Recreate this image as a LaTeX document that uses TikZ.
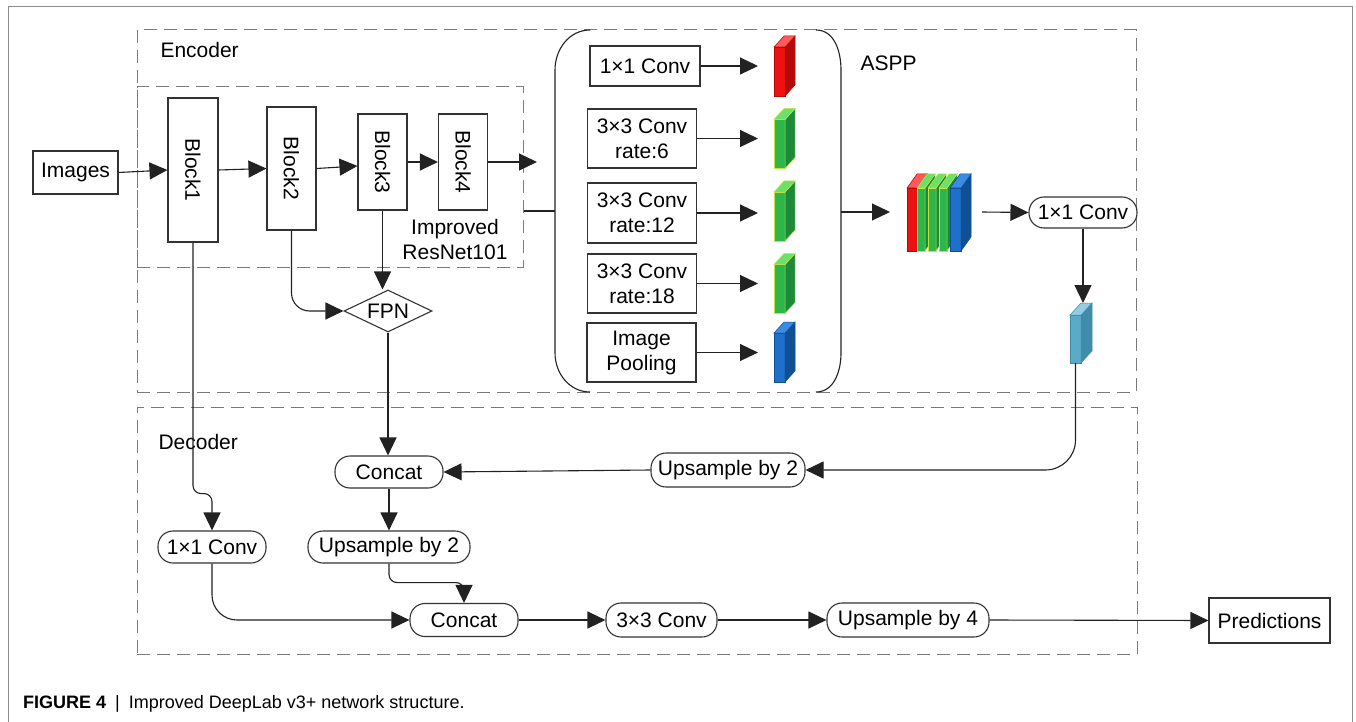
\documentclass[tikz,border=0pt]{standalone}
\usepackage{fontspec}
\setmainfont{Liberation Sans}
\usetikzlibrary{arrows.meta,shapes.geometric}
\definecolor{ln}{HTML}{222222}
\definecolor{nd}{HTML}{333333}
\definecolor{dsh}{HTML}{7A7A7A}
\definecolor{frm}{HTML}{8C8C8C}
\definecolor{redF}{HTML}{EE1111}
\definecolor{redS}{HTML}{B50A0A}
\definecolor{redT}{HTML}{FF5A5A}
\definecolor{grnF}{HTML}{2DB64A}
\definecolor{grnS}{HTML}{1C8A3A}
\definecolor{grnT}{HTML}{6BE06B}
\definecolor{grnE}{HTML}{C8E03C}
\definecolor{bluF}{HTML}{1F6FCC}
\definecolor{bluS}{HTML}{0F4F94}
\definecolor{bluT}{HTML}{3C8CE6}
\definecolor{cyF}{HTML}{5AAAC8}
\definecolor{cyS}{HTML}{3E8CAA}
\definecolor{cyT}{HTML}{92CDE2}
\newcommand\drawcube[6]{%
  \filldraw[fill=#4, draw=#6, line width=0.5pt] (#1.north east) -- ++(#2pt,#3pt) -- ([shift={(#2pt,#3pt)}]#1.south east) -- (#1.south east) -- cycle;
  \filldraw[fill=#5, draw=#6, line width=0.5pt] (#1.north west) -- ++(#2pt,#3pt) -- ([shift={(#2pt,#3pt)}]#1.north east) -- (#1.north east) -- cycle;
}
\begin{document}
\begin{tikzpicture}[x=1pt,y=-1pt,
  lbl/.style={font=\fontsize{21}{25}\selectfont, text=black},
  box/.style={draw=nd, line width=1.1pt, inner sep=0pt, align=center, lbl},
  pill/.style={box, rounded corners=15pt},
  dbox/.style={draw=dsh, line width=1pt, dash pattern=on 13pt off 7pt, inner sep=0pt},
  arr/.style={draw=ln, line width=1.1pt, -{Triangle[length=18pt,width=17pt]}},
  con/.style={draw=ln, line width=1.1pt},
  face/.style={inner sep=0pt, outer sep=0pt, line width=0.5pt},
]
\useasboundingbox[fill=white] (0,0) rectangle (1356,722);
% outer frame
\draw[frm, line width=1pt] (8,722) -- (8,7) -- (1352,7) -- (1352,722);

% dashed group boxes
\node[dbox, minimum width=999pt, minimum height=362pt] (enc) at (636.5,211) {};
\node[dbox, minimum width=386pt, minimum height=180pt] (res) at (330,177) {};
\node[dbox, minimum width=1000pt, minimum height=247pt] (dec) at (637,530.5) {};
\node[lbl, anchor=west] (enct) at (157,50) {Encoder};
\node[lbl, anchor=west] (dect) at (155,442) {Decoder};
\node[lbl, anchor=west] (asppt) at (857,63) {ASPP};

% input and backbone
\node[box, minimum width=85pt, minimum height=43pt] (img) at (75.5,172.5) {Images};
\node[box, minimum width=50pt, minimum height=144pt] (b1) at (193,170) {};
\node[box, minimum width=49pt, minimum height=123pt] (b2) at (291.5,168.5) {};
\node[box, minimum width=49pt, minimum height=96pt] (b3) at (382.5,162) {};
\node[box, minimum width=49pt, minimum height=96pt] (b4) at (463,162) {};
\node[lbl, rotate=-90] (b1t) at (b1) {Block1};
\node[lbl, rotate=-90] (b2t) at (b2) {Block2};
\node[lbl, rotate=-90] (b3t) at (b3) {Block3};
\node[lbl, rotate=-90] (b4t) at (b4) {Block4};
\node[lbl, align=center] (rest) at (455,239) {Improved\\ResNet101};
\node[draw=nd, line width=1.1pt, diamond, shape aspect=2, minimum width=88pt, minimum height=42pt, inner sep=0pt, lbl] (fpn) at (388,311) {FPN};

\draw[arr] (img.east) -- (b1.west);
\draw[arr] (b1.east) -- (b2.west);
\draw[arr] (b2.east) -- ([yshift=-4pt]b3.west);
\draw[arr] (b3.east) -- (b4.west);
\coordinate (b4tip) at (537,162);
\draw[arr] (b4.east) -- (b4tip);
\draw[arr] (b3.south) -- (b3.south |- fpn.north);
\draw[arr, rounded corners=18pt] (b2.south) |- (fpn.west);

% ASPP bracket
\coordinate (bl) at (555,211);
\coordinate (br) at (841,212);
\draw[con] (590,30) to[out=180,in=90] (555,70) -- (555,353) to[out=-90,in=180] (590,392);
\draw[con] (816,30) to[out=0,in=90] (841,70) -- (841,353) to[out=-90,in=0] (816,392);
\draw[con] (res.east |- bl) -- (bl);

% ASPP branches
\node[box, minimum width=110pt, minimum height=40pt] (a1) at (645,66) {1×1 Conv};
\node[box, minimum width=109pt, minimum height=59pt] (a2) at (642,138.5) {3×3 Conv\\rate:6};
\node[box, minimum width=109pt, minimum height=60pt] (a3) at (642,213) {3×3 Conv\\rate:12};
\node[box, minimum width=109pt, minimum height=59pt] (a4) at (642,283.5) {3×3 Conv\\rate:18};
\node[box, minimum width=109pt, minimum height=59pt] (a5) at (641.5,352.5) {Image\\Pooling};

\node[face, fill=redF, draw=redS, minimum width=11pt, minimum height=49pt] (c1) at (779.5,71.5) {};
\drawcube{c1}{10}{11}{redS}{redT}{redS}
\node[face, fill=grnF, draw=grnE, minimum width=11pt, minimum height=49pt] (c2) at (779.5,144) {};
\drawcube{c2}{10}{11}{grnS}{grnT}{grnE}
\node[face, fill=grnF, draw=grnE, minimum width=11pt, minimum height=49pt] (c3) at (779.5,216.5) {};
\drawcube{c3}{10}{11}{grnS}{grnT}{grnE}
\node[face, fill=grnF, draw=grnE, minimum width=11pt, minimum height=49pt] (c4) at (779.5,289) {};
\drawcube{c4}{10}{11}{grnS}{grnT}{grnE}
\node[face, fill=bluF, draw=bluS, minimum width=11pt, minimum height=49pt] (c5) at (779.5,357.5) {};
\drawcube{c5}{10}{11}{bluS}{bluT}{bluS}

\coordinate (cin) at (758,0);
\draw[arr] (a1.east) -- (a1.east -| cin);
\draw[arr] (a2.east) -- (a2.east -| cin);
\draw[arr] (a3.east) -- (a3.east -| cin);
\draw[arr] (a4.east) -- (a4.east -| cin);
\draw[arr] (a5.east) -- (a5.east -| cin);

% concatenated stack
\node[face, fill=redF, draw=redS, minimum width=10pt, minimum height=63pt] (s1) at (912,219.5) {};
\drawcube{s1}{10}{14}{redS}{redT}{redS}
\node[face, fill=grnF, draw=grnE, minimum width=8pt, minimum height=63pt] (s2) at (921,219.5) {};
\drawcube{s2}{10}{14}{grnS}{grnT}{grnE}
\node[face, fill=grnF, draw=grnE, minimum width=8pt, minimum height=63pt] (s3) at (932,219.5) {};
\drawcube{s3}{10}{14}{grnS}{grnT}{grnE}
\node[face, fill=grnF, draw=grnE, minimum width=8pt, minimum height=63pt] (s4) at (943,219.5) {};
\drawcube{s4}{10}{14}{grnS}{grnT}{grnE}
\node[face, fill=bluF, draw=bluS, minimum width=11pt, minimum height=63pt] (s5) at (955.5,219.5) {};
\drawcube{s5}{10}{14}{bluS}{bluT}{bluS}

\coordinate (stin) at (890,212);
\coordinate (stout) at (982,212);
\draw[arr] (br) -- (stin);
\node[pill, minimum width=108pt, minimum height=31pt] (conv1e) at (1083,212.5) {1×1 Conv};
\draw[arr] (stout) -- (conv1e.west);

\node[face, fill=cyF, draw=cyS, minimum width=11pt, minimum height=48pt] (cy) at (1075.5,339) {};
\drawcube{cy}{11}{12}{cyS}{cyT}{cyS}
\coordinate (cytop) at ([yshift=12pt]cy.north);
\draw[arr] (conv1e.south) -- (conv1e.south |- cytop);

% decoder
\node[pill, minimum width=154pt, minimum height=34pt] (ups2a) at (728,470) {Upsample by 2};
\node[pill, minimum width=108pt, minimum height=32pt] (concatA) at (389,472) {Concat};
\node[pill, minimum width=162pt, minimum height=32pt] (ups2b) at (389,547) {Upsample by 2};
\node[pill, minimum width=108pt, minimum height=32pt] (conv1d) at (212,547) {1×1 Conv};
\node[pill, minimum width=108pt, minimum height=33pt] (concatB) at (464,620) {Concat};
\node[pill, minimum width=111pt, minimum height=34pt] (conv3d) at (661.5,620) {3×3 Conv};
\node[pill, minimum width=162pt, minimum height=34pt] (ups4) at (908,620) {Upsample by 4};
\node[box, minimum width=121pt, minimum height=45pt] (pred) at (1269.5,620.5) {Predictions};

\draw[arr, rounded corners=30pt] (cy.south) |- (ups2a.east);
\draw[arr] (ups2a.west) -- (concatA.east);
\draw[arr] (fpn.south) -- (fpn.south |- concatA.north);
\draw[arr] (concatA.south) -- (ups2b.north);
\draw[arr, rounded corners=8pt] (b1.south) -- ++(0,251) -| (conv1d.north);
\draw[arr, rounded corners=8pt] (ups2b.south) -- ++(0,19) -| (concatB.north);
\draw[arr, rounded corners=25pt] (conv1d.south) |- (concatB.west);
\draw[arr] (concatB.east) -- (conv3d.west);
\draw[arr] (conv3d.east) -- (ups4.west);
\draw[arr] (ups4.east) -- (pred.west);

% caption
\node[anchor=west, font=\fontsize{18}{22}\selectfont, inner sep=0pt] (cap) at (23,704) {\textbf{FIGURE 4}\hspace{9pt}|\hspace{9pt}Improved DeepLab v3+ network structure.};
\end{tikzpicture}
\end{document}
